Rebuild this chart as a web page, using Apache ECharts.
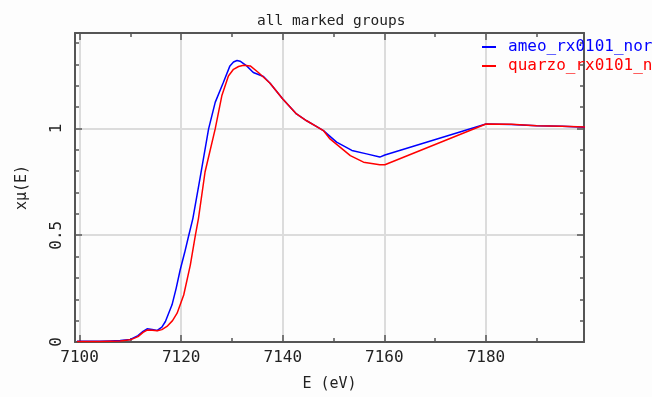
<!DOCTYPE html>
<html>
<head>
<meta charset="utf-8">
<script src="https://cdn.jsdelivr.net/npm/echarts@6/dist/echarts.min.js"></script>
<style>
  html, body { margin: 0; padding: 0; background: #fdfdfd; }
  #chart { width: 652px; height: 397px; }
</style>
</head>
<body>
<div id="chart"></div>
<script>
// energy (eV) and normalized xmu values
const ameoE = [7099.5, 7104, 7106, 7108, 7110, 7111.5, 7112.5, 7113.3, 7114.3, 7115.3, 7116.2, 7116.9, 7118.2, 7119.0, 7119.8, 7120.7, 7121.5, 7122.3, 7123.7, 7125.4, 7126.7, 7128.3, 7129.6, 7130.3, 7131.0, 7131.6, 7132.9, 7134.2, 7136.2, 7137.5, 7140, 7142.7, 7144.7, 7146.6, 7148, 7150.6, 7153.6, 7156.5, 7159.1, 7160.1, 7180, 7185, 7190, 7195, 7199.5];
const ameoMu = [0.003, 0.003, 0.005, 0.007, 0.012, 0.03, 0.05, 0.062, 0.058, 0.054, 0.07, 0.096, 0.174, 0.25, 0.337, 0.42, 0.5, 0.578, 0.765, 0.998, 1.122, 1.215, 1.293, 1.311, 1.318, 1.315, 1.293, 1.262, 1.243, 1.212, 1.138, 1.068, 1.036, 1.01, 0.99, 0.936, 0.897, 0.881, 0.866, 0.876, 1.021, 1.019, 1.013, 1.01, 1.006];

const quarzoE = [7099.5, 7104, 7108, 7110, 7111.5, 7112.5, 7113.3, 7114.3, 7115.3, 7116.2, 7117.2, 7118.3, 7119.2, 7120.5, 7121.8, 7122.8, 7123.4, 7124.7, 7126.7, 7128, 7129.3, 7130.3, 7131.3, 7132.3, 7133.6, 7135.2, 7137.5, 7140, 7142.7, 7144.7, 7146.6, 7148, 7149.3, 7153.3, 7155.9, 7159.1, 7160.1, 7180, 7185, 7190, 7195, 7199.5];
const quarzoMu = [0.002, 0.002, 0.005, 0.01, 0.025, 0.045, 0.056, 0.055, 0.053, 0.058, 0.073, 0.1, 0.135, 0.22, 0.36, 0.5, 0.578, 0.796, 0.998, 1.153, 1.246, 1.277, 1.29, 1.296, 1.293, 1.262, 1.212, 1.138, 1.068, 1.036, 1.01, 0.99, 0.951, 0.873, 0.842, 0.83, 0.83, 1.021, 1.02, 1.013, 1.01, 1.007];

const xLabels = [7100, 7120, 7140, 7160, 7180];
const xMinor = [7110, 7130, 7150, 7170, 7190];
const yLabels = [0, 0.5, 1];
const yMinor = [0.1, 0.2, 0.3, 0.4, 0.6, 0.7, 0.8, 0.9, 1.1, 1.2, 1.3, 1.4];

const font = 'DejaVu Sans Mono';
const xMin = 7099.1, xMax = 7199.3;
const yMin = 0, yMax = 1.447;
const axisColor = '#555';

let chart = echarts.init(document.getElementById('chart'));

function xAxisOf(pos, ticks, len, main) {
  return {
    type: 'value', position: pos, min: xMin, max: xMax,
    name: main ? 'E (eV)' : '',
    nameLocation: 'middle', nameGap: 35,
    nameTextStyle: { color: '#222', fontFamily: font, fontSize: 15 },
    axisLine: { show: len > 5, onZero: false, lineStyle: { color: axisColor, width: 2 } },
    axisTick: { show: true, inside: true, length: len, customValues: ticks, lineStyle: { color: axisColor, width: 1.5 } },
    axisLabel: { show: main, customValues: ticks, margin: 8, color: '#222', fontFamily: font, fontSize: 16, formatter: v => String(v) },
    splitLine: { show: main, lineStyle: { color: '#dcdcdc', width: 2 } }
  };
}

function yAxisOf(pos, ticks, len, main) {
  return {
    type: 'value', position: pos, min: yMin, max: yMax,
    name: main ? 'xμ(E)' : '',
    nameLocation: 'middle', nameGap: 45,
    nameTextStyle: { color: '#222', fontFamily: font, fontSize: 15 },
    axisLine: { show: len > 5, onZero: false, lineStyle: { color: axisColor, width: 2 } },
    axisTick: { show: true, inside: true, length: len, customValues: ticks, lineStyle: { color: axisColor, width: 1.5 } },
    axisLabel: { show: main, customValues: ticks, rotate: 90, margin: 10, color: '#222', fontFamily: font, fontSize: 16, formatter: v => String(v) },
    splitLine: { show: main, lineStyle: { color: '#dcdcdc', width: 2 } }
  };
}

let option = {
  backgroundColor: '#fdfdfd',
  animation: false,
  title: {
    text: 'all marked groups',
    left: 252, top: 9,
    textStyle: { color: '#222', fontFamily: font, fontSize: 14.5, fontWeight: 'normal' }
  },
  legend: {
    orient: 'vertical',
    left: 482, top: 39, padding: 0,
    itemWidth: 14, itemHeight: 2, itemGap: 3,
    icon: 'rect',
    textStyle: { fontFamily: font, fontSize: 16, lineHeight: 16, padding: [0, 0, 0, 7] },
    data: [
      { name: 'ameo_rx0101_nor', textStyle: { color: '#0000ff' } },
      { name: 'quarzo_rx0101_nor', textStyle: { color: '#ff0000' } }
    ]
  },
  grid: { left: 75, right: 68, top: 33, bottom: 53 },
  xAxis: [
    xAxisOf('bottom', xLabels, 7, true),
    xAxisOf('top', xLabels, 7, false),
    xAxisOf('bottom', xMinor, 4, false),
    xAxisOf('top', xMinor, 4, false)
  ],
  yAxis: [
    yAxisOf('left', yLabels, 7, true),
    yAxisOf('right', yLabels, 7, false),
    yAxisOf('left', yMinor, 4, false),
    yAxisOf('right', yMinor, 4, false)
  ],
  series: [
    {
      name: 'ameo_rx0101_nor', type: 'line', showSymbol: false,
      color: '#0000ff', lineStyle: { width: 1.5 },
      data: ameoE.map((e, i) => [e, ameoMu[i]])
    },
    {
      name: 'quarzo_rx0101_nor', type: 'line', showSymbol: false,
      color: '#ff0000', lineStyle: { width: 1.5 },
      data: quarzoE.map((e, i) => [e, quarzoMu[i]])
    }
  ]
};

chart.setOption(option);
</script>
</body>
</html>
